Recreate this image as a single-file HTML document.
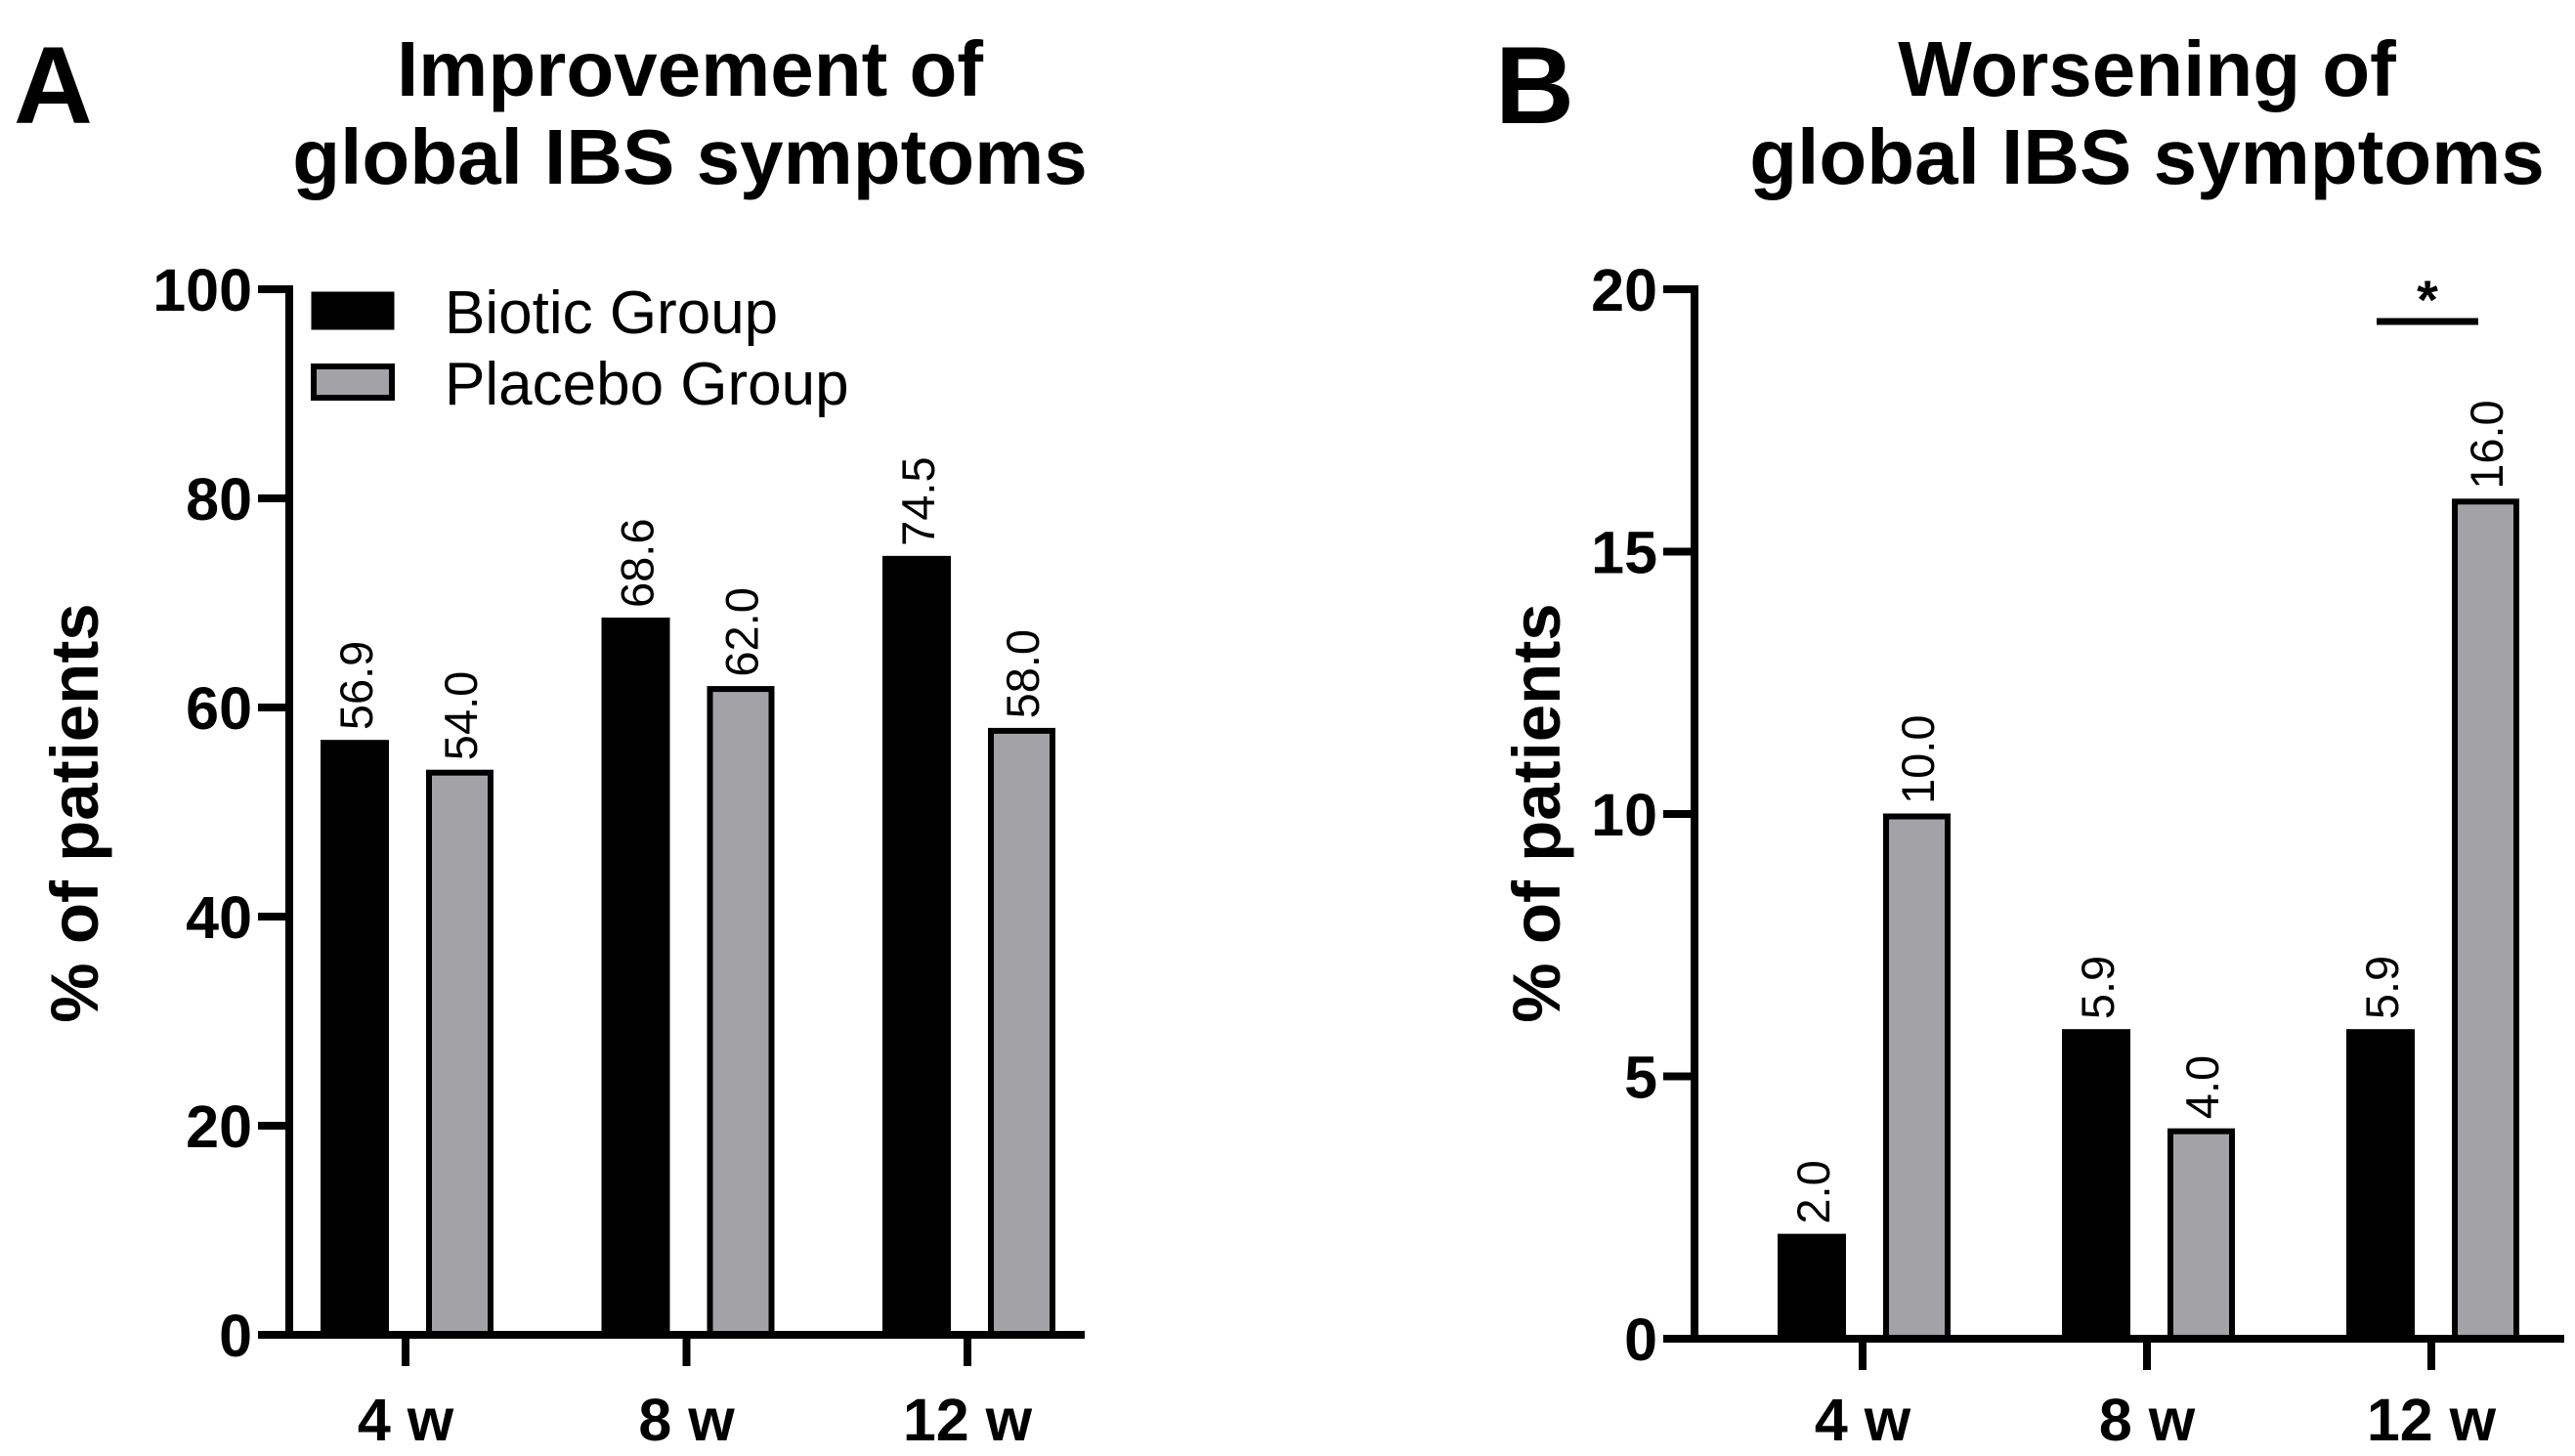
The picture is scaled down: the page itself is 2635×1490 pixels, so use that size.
<!DOCTYPE html>
<html><head><meta charset="utf-8"><style>
html,body{margin:0;padding:0;background:#fff;}
svg{display:block;}
text{font-family:"Liberation Sans",Arial,sans-serif;}
</style></head><body>
<svg id="fig" width="2635" height="1490" viewBox="0 0 2635 1490" xmlns="http://www.w3.org/2000/svg">
<text x="14" y="126" font-size="112" font-weight="bold">A</text>
<text x="706" y="98" font-size="80" font-weight="bold" text-anchor="middle">Improvement of</text>
<text x="706" y="188" font-size="80" font-weight="bold" text-anchor="middle">global IBS symptoms</text>
<text x="1530" y="126" font-size="112" font-weight="bold">B</text>
<text x="2197" y="98" font-size="80" font-weight="bold" text-anchor="middle">Worsening of</text>
<text x="2197" y="188" font-size="80" font-weight="bold" text-anchor="middle">global IBS symptoms</text>
<g id="pa"></g>
<g id="pb"></g>
<rect x="321" y="301" width="80" height="34" fill="#000" stroke="#000" stroke-width="5"/>
<text x="455" y="341" font-size="62">Biotic Group</text>
<rect x="321" y="375" width="80" height="32" fill="#a3a2a7" stroke="#000" stroke-width="6"/>
<text x="455" y="414" font-size="62">Placebo Group</text>
</svg>
<script>
const categories = ["4 w", "8 w", "12 w"];
const improveBiotic = [56.9, 68.6, 74.5];
const improvePlacebo = [54.0, 62.0, 58.0];
const worsenBiotic = [2.0, 5.9, 5.9];
const worsenPlacebo = [10.0, 4.0, 16.0];
const ticksA = [0, 20, 40, 60, 80, 100];
const ticksB = [0, 5, 10, 15, 20];

const NS = "http://www.w3.org/2000/svg";
function mk(parent, tag, attrs, txt) {
  const e = document.createElementNS(NS, tag);
  for (const k in attrs) e.setAttribute(k, attrs[k]);
  if (txt !== undefined) e.textContent = txt;
  parent.appendChild(e);
  return e;
}
function panel(gid, cfg, biotic, placebo, ticks, prefix) {
  const g = document.getElementById(gid);
  const y = v => cfg.y0 - (v - 0) / cfg.max * (cfg.y0 - cfg.yTop);
  const xc = i => cfg.c0 + i * cfg.step;
  categories.forEach((c, i) => {
    const vb = biotic[i], vp = placebo[i];
    const rb = mk(g, "rect", {x: xc(i) - 87, y: y(vb), width: 70, height: cfg.y0 - y(vb), fill: "#000"});
    
    
    const rp = mk(g, "rect", {x: xc(i) + 24, y: y(vp) + 2.5, width: 63, height: cfg.y0 - y(vp) - 2.5, fill: "#a3a2a7", stroke: "#000", "stroke-width": 6});
    
    
    const lb = mk(g, "text", {transform: `translate(${xc(i) - 52 + 18},${y(vb) - 10}) rotate(-90)`, "font-size": 47}, vb.toFixed(1));
    
    
    const lp = mk(g, "text", {transform: `translate(${xc(i) + 55 + 18},${y(vp) - 10}) rotate(-90)`, "font-size": 47}, vp.toFixed(1));
    
    
    const t = mk(g, "line", {x1: xc(i), x2: xc(i), y1: cfg.y0, y2: cfg.y0 + 32, stroke: "#000", "stroke-width": 8});
    
    
    const tl = mk(g, "text", {x: xc(i), y: 1474, "font-size": 61, "font-weight": "bold", "text-anchor": "middle"}, c);
    
    
  });
  const ya = mk(g, "line", {x1: cfg.ax, x2: cfg.ax, y1: cfg.yTop - 4, y2: cfg.y0 + 4, stroke: "#000", "stroke-width": 8});
  
  
  const xa = mk(g, "line", {x1: cfg.ax - 4, x2: cfg.xEnd, y1: cfg.y0, y2: cfg.y0, stroke: "#000", "stroke-width": 8});
  
  
  ticks.forEach(v => {
    const tk = mk(g, "line", {x1: cfg.ax - 32, x2: cfg.ax, y1: y(v), y2: y(v), stroke: "#000", "stroke-width": 8});
    
    
    const tl = mk(g, "text", {x: cfg.ax - 38, y: y(v) + 22, "font-size": 61, "font-weight": "bold", "text-anchor": "end"}, String(v));
    
    
  });
  const yt = mk(g, "text", {transform: `translate(${cfg.titleX},832) rotate(-90)`, "font-size": 69, "font-weight": "bold", "text-anchor": "middle"}, "% of patients");
  
  
  return {y, xc};
}
panel("pa", {ax: 296, y0: 1366, yTop: 296, max: 100, c0: 415, step: 287.5, xEnd: 1110, titleX: 100}, improveBiotic, improvePlacebo, ticksA, "panel-a");
panel("pb", {ax: 1734, y0: 1370, yTop: 296, max: 20, c0: 1906, step: 291, xEnd: 2624, titleX: 1596}, worsenBiotic, worsenPlacebo, ticksB, "panel-b");
const gb = document.getElementById("pb");
const sig = mk(gb, "line", {x1: 2432, x2: 2536, y1: 329, y2: 329, stroke: "#000", "stroke-width": 7});


const star = mk(gb, "text", {x: 2484, y: 326, "font-size": 56, "font-weight": "bold", "text-anchor": "middle"}, "*");


</script>
</body></html>
